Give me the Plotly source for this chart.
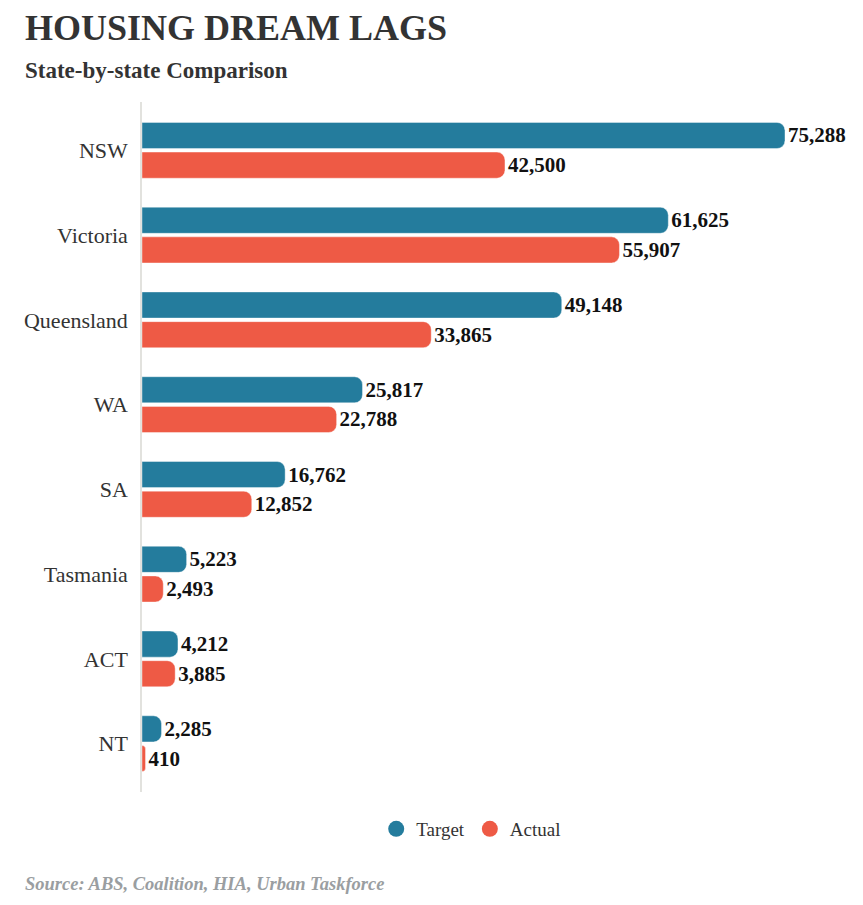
import plotly.graph_objects as go

states = ["NSW", "Victoria", "Queensland", "WA", "SA", "Tasmania", "ACT", "NT"]
target = [75288, 61625, 49148, 25817, 16762, 5223, 4212, 2285]
actual = [42500, 55907, 33865, 22788, 12852, 2493, 3885, 410]

TEAL = "#247c9d"
RED = "#ee5a45"
SERIF = "Liberation Serif, Times New Roman, serif"

W, H = 855, 897  # page adds an 8px body margin
L, R, T, B = 134, 13, 94, 113
PW, PH = W - L - R, H - T - B

def fmt(v):
    return f"{v:,}"

fig = go.Figure()
for name, vals, col in [("Target", target, TEAL), ("Actual", actual, RED)]:
    fig.add_trace(go.Bar(
        y=states, x=vals, orientation="h", name=name,
        marker=dict(color=col, line=dict(color="rgba(255,255,255,0.4)", width=1)),
        text=[fmt(v) for v in vals], textposition="outside", cliponaxis=False,
        textfont=dict(family=SERIF, size=21, color="#111111", weight="bold"),
        showlegend=False, hoverinfo="x+y",
    ))
# legend entries with circle markers
for name, col in [("Target", TEAL), ("Actual", RED)]:
    fig.add_trace(go.Scatter(x=[None], y=[None], mode="markers", name=name,
                             marker=dict(color=col, size=16, symbol="circle")))

fig.update_layout(
    width=W, height=H,
    margin=dict(l=L, r=R, t=T, b=B),
    plot_bgcolor="white", paper_bgcolor="white",
    barmode="group", bargap=0.3, bargroupgap=0.12, barcornerradius=8,
    xaxis=dict(visible=False, range=[0, 82900], showgrid=False, zeroline=False),
    yaxis=dict(
        categoryorder="array", categoryarray=states,
        range=[7.57, -0.57], showgrid=False, zeroline=False,
        showline=True, linecolor="#e2e2de", linewidth=1.5,
        ticks="", ticklabelstandoff=8,
        tickfont=dict(family=SERIF, size=22, color="#333333"),
    ),
    legend=dict(orientation="h", x=0.465, xanchor="center", y=(784 - 821) / PH, yanchor="middle",
                font=dict(family=SERIF, size=19, color="#333333"),
                itemsizing="trace"),
    title=dict(text="HOUSING DREAM LAGS", x=17 / W, xanchor="left", xref="container",
               y=1 - 19 / H, yanchor="middle", yref="container",
               font=dict(family=SERIF, size=36, color="#333333", weight="bold")),
    annotations=[
        dict(text="State-by-state Comparison", xref="paper", yref="paper",
             x=(15 - L) / PW, y=(784 - 63) / PH, xanchor="left", yanchor="middle",
             showarrow=False, font=dict(family=SERIF, size=23, color="#333333", weight="bold")),
        dict(text="<i>Source: ABS, Coalition, HIA, Urban Taskforce</i>", xref="paper", yref="paper",
             x=(15 - L) / PW, y=(784 - 876) / PH, xanchor="left", yanchor="middle",
             showarrow=False, font=dict(family=SERIF, size=18.5, color="#9a9ea1", weight="bold")),
    ],
)

fig.write_html("out.html")
